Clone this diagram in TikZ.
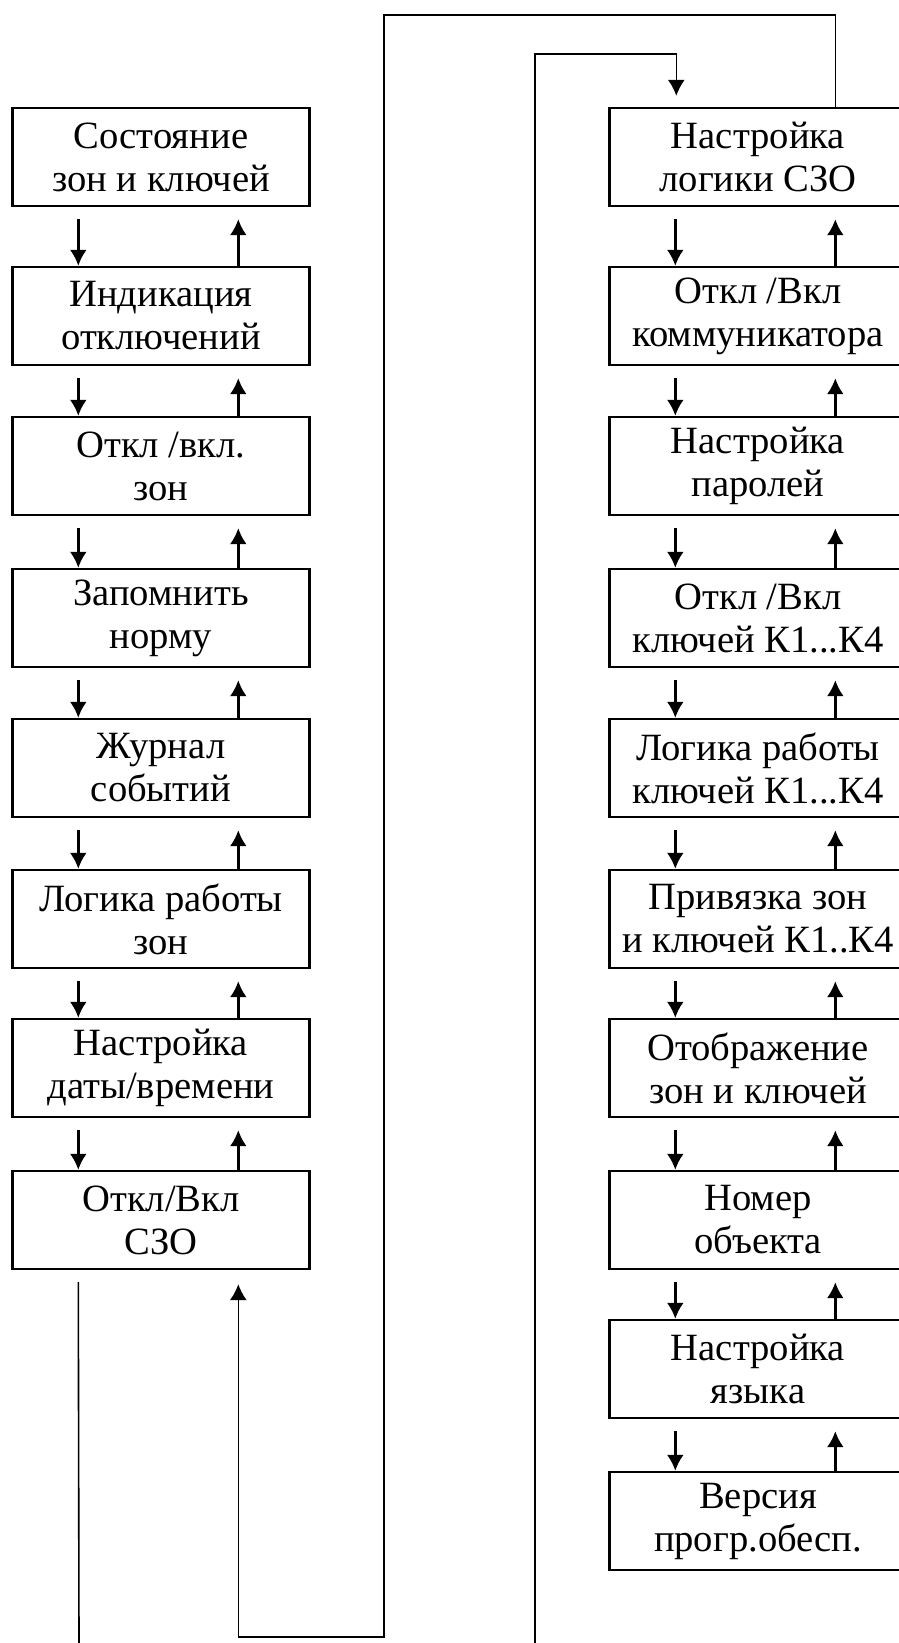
\documentclass[tikz,border=0pt]{standalone}
\usepackage{fontspec}
\setmainfont{Liberation Serif}
\usetikzlibrary{arrows.meta}

\tikzset{
	menubox/.style={draw, line width=1.2pt, minimum width=148.5pt, minimum height=49pt,
		inner sep=0pt, align=center, font=\fontsize{19.3}{21.5}\selectfont},
	stepline/.style={line width=1.3pt, -{Latex[length=8pt, width=8.5pt]}},
	loopline/.style={line width=0.8pt},
}

\begin{document}
\begin{tikzpicture}[x=0.5pt, y=-0.5pt]
	\useasboundingbox (0,0) rectangle (899,1643);
	% left column
	\node[menubox] (l1) at (161,157) {Состояние\\зон и ключей};
	\node[menubox] (l2) at (161,316) {Индикация\\отключений};
	\node[menubox] (l3) at (161,466) {Откл /вкл.\\зон};
	\node[menubox] (l4) at (161,618) {Запомнить\\норму};
	\node[menubox] (l5) at (161,768) {Журнал\\событий};
	\node[menubox] (l6) at (161,919) {Логика работы\\зон};
	\node[menubox] (l7) at (161,1068) {Настройка\\даты/времени};
	\node[menubox] (l8) at (161,1220) {Откл/Вкл\\СЗО};
	% right column
	\node[menubox] (r1) at (758,157) {Настройка\\логики СЗО};
	\node[menubox] (r2) at (758,316) {Откл /Вкл\\коммуникатора};
	\node[menubox] (r3) at (758,466) {Настройка\\паролей};
	\node[menubox] (r4) at (758,618) {Откл /Вкл\\ключей К1...К4};
	\node[menubox] (r5) at (758,768) {Логика работы\\ключей К1...К4};
	\node[menubox] (r6) at (758,919) {Привязка зон\\и ключей К1..К4};
	\node[menubox] (r7) at (758,1068) {Отображение\\зон и ключей};
	\node[menubox] (r8) at (758,1220) {Номер\\объекта};
	\node[menubox] (r9) at (758,1369) {Настройка\\языка};
	\node[menubox] (r10) at (758,1521) {Версия\\прогр.обесп.};
	% down and up between neighbours
	\foreach \a/\b in {l1/l2, l2/l3, l3/l4, l4/l5, l5/l6, l6/l7, l7/l8,
		r1/r2, r2/r3, r3/r4, r4/r5, r5/r6, r6/r7, r7/r8, r8/r9, r9/r10} {
		\draw[stepline] ([xshift=33.5pt, yshift=-6pt]\a.south west)
			-- ([xshift=33.5pt]\b.north west);
		\draw[stepline] ([xshift=113.5pt]\b.north west)
			-- ([xshift=113.5pt, yshift=-6pt]\a.south west);
	}
	% loops between the columns
	\coordinate (upper turn) at (384,15);
	\coordinate (lower turn) at (384,1637);
	\coordinate (inner turn) at (535,54);
	\coordinate (cut left) at (79,1643);
	\coordinate (cut right) at (535,1643);
	\draw[stepline, line width=0.8pt] ([xshift=113.5pt]r1.north west)
		|- (upper turn) -- (lower turn)
		-| ([xshift=113.5pt, yshift=-7pt]l8.south west);
	\draw[loopline] ([xshift=33.5pt, yshift=-6pt]l8.south west) -- (cut left);
	\draw[stepline, line width=0.8pt] (cut right) -- (inner turn)
		-| ([xshift=34pt, yshift=5.5pt]r1.north west);
\end{tikzpicture}
\end{document}
